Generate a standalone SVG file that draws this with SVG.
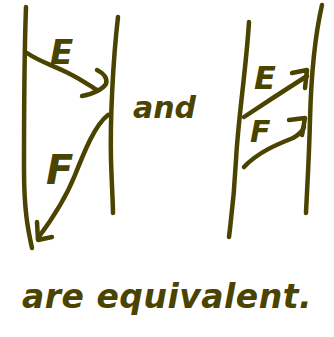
<svg xmlns="http://www.w3.org/2000/svg" width="334" height="337" viewBox="0 0 334 337">
<style>
.s{fill:none;stroke:#4a4400;stroke-width:4.5;stroke-linecap:round;stroke-linejoin:round}
.t{fill:#4a4400;font-family:"DejaVu Sans",sans-serif;font-style:italic;font-weight:bold}
</style>
<rect width="334" height="337" fill="#ffffff"/>
<g id="left-diagram">
<path class="s" d="M26,7 C24,60 24,120 24,170 C24,210 28,230 32,248"/>
<path class="s" d="M118,17 C113,60 110,120 111,160 C112,190 113,205 113,213"/>
<path class="s" d="M27,53 C40,62 55,66 70,74 C82,80 90,86 97,90"/>
<path class="s" d="M97,70 C103,73 108,78 106,84 C102,90 92,94 82,96"/>
<path class="s" d="M108,115 C95,125 85,150 75,175 C65,200 50,222 38,238"/>
<path class="s" d="M37,222 L38,240 L52,237"/>
<text class="t" x="50" y="64" font-size="34">E</text>
<text class="t" x="46" y="184" font-size="40">F</text>
</g>
<g id="right-diagram">
<path class="s" d="M249,22 C246,70 238,120 236,160 C234,200 231,220 229,237"/>
<path class="s" d="M322,5 C314,40 311,80 310,120 C309,160 307,190 306,213"/>
<path class="s" d="M244,117 C262,105 285,90 307,76"/>
<path class="s" d="M292,73 L307,70 L305,88"/>
<path class="s" d="M244,167 C258,152 278,144 293,138 C300,134 303,130 304,127"/>
<path class="s" d="M289,120 L305,118 L302,135"/>
<text class="t" x="254" y="89" font-size="32">E</text>
<text class="t" x="250" y="142" font-size="30">F</text>
</g>
<text class="t" x="133" y="118" font-size="30">and</text>
<text class="t" x="22" y="308" font-size="33" letter-spacing="0.5">are equivalent.</text>
</svg>
